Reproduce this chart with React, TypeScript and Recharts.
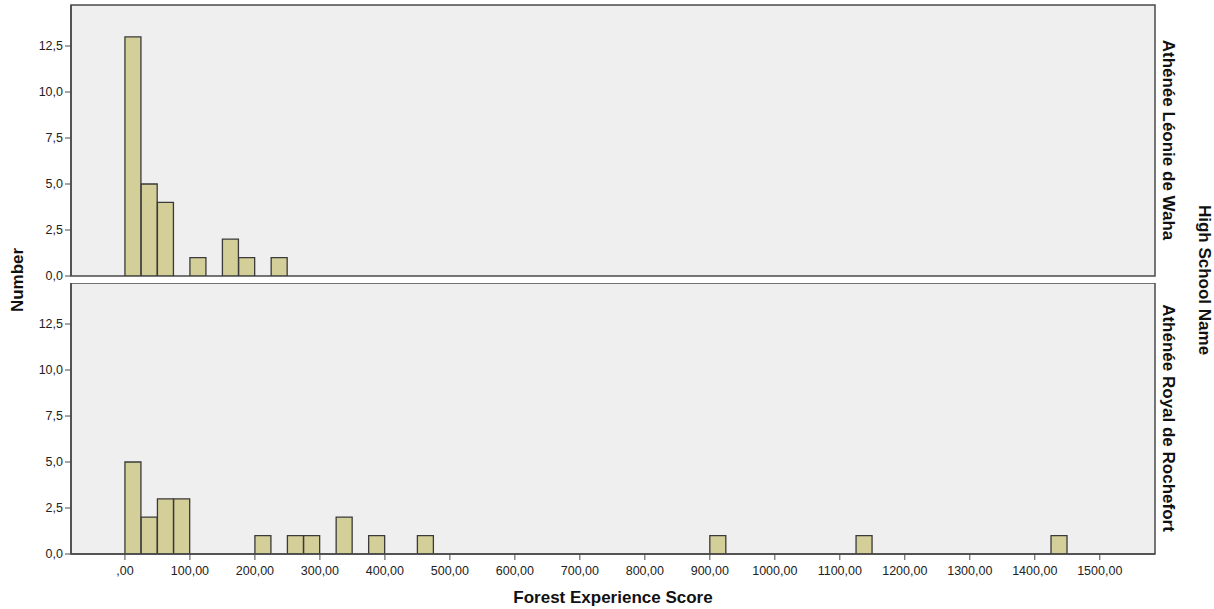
import { BarChart, Bar, XAxis, YAxis, CartesianGrid, ReferenceArea } from 'recharts';

// Histogram bins of width 25, keyed by bin start
const BIN_WIDTH = 25;

const wahaBins = [0, 25, 50, 100, 150, 175, 225];
const wahaCounts = [13, 5, 4, 1, 2, 1, 1];

const rochefortBins = [0, 25, 50, 75, 200, 250, 275, 325, 375, 450, 900, 1125, 1425];
const rochefortCounts = [5, 2, 3, 3, 1, 1, 1, 2, 1, 1, 1, 1, 1];

const xTicks = [0, 100, 200, 300, 400, 500, 600, 700, 800, 900, 1000, 1100, 1200, 1300, 1400, 1500];
const yTicks = [0, 2.5, 5, 7.5, 10, 12.5];

const X_DOMAIN: [number, number] = [-83, 1585];
const Y_DOMAIN: [number, number] = [0, 14.73];

const FONT = '"Liberation Sans", Arial, sans-serif';
const FRAME = '#4a4a4a';
const BAR_FILL = '#d4cf98';
const BAR_STROKE = '#3a3a3a';
const TICK_STYLE = { fontSize: 12.5, fill: '#222', fontFamily: FONT };

const toRows = (bins: number[], counts: number[]) =>
  bins.map((b, i) => ({ mid: b + BIN_WIDTH / 2, count: counts[i] }));

const fmtY = (v: number) => v.toFixed(1).replace('.', ',');
const fmtX = (v: number) => (v === 0 ? ',00' : `${v},00`);

function Panel({ rows, showX, height, top, bottom }: {
  rows: { mid: number; count: number }[];
  showX: boolean;
  height: number;
  top: number;
  bottom: number;
}) {
  return (
    <BarChart
      width={1214}
      height={height}
      data={rows}
      margin={{ top, right: 59, left: 31, bottom }}
      barCategoryGap={0}
      barGap={0}
    >
      <CartesianGrid horizontal={false} vertical={false} fill="#efefef" />
      <XAxis
        dataKey="mid"
        type="number"
        domain={X_DOMAIN}
        ticks={xTicks}
        tickFormatter={fmtX}
        allowDataOverflow
        height={showX ? 28 : 0}
        tick={showX ? TICK_STYLE : false}
        tickLine={showX ? { stroke: FRAME } : false}
        tickSize={6}
        tickMargin={6}
        axisLine={{ stroke: FRAME, strokeWidth: 1.5 }}
        interval={0}
      />
      <YAxis
        type="number"
        domain={Y_DOMAIN}
        ticks={yTicks}
        tickFormatter={fmtY}
        allowDataOverflow
        width={40}
        tick={TICK_STYLE}
        tickLine={{ stroke: FRAME }}
        tickSize={6}
        tickMargin={2}
        axisLine={{ stroke: FRAME, strokeWidth: 1.5 }}
        interval={0}
      />
      <Bar
        dataKey="count"
        fill={BAR_FILL}
        stroke={BAR_STROKE}
        strokeWidth={1.3}
        isAnimationActive={false}
      />
      {/* panel frame */}
      <ReferenceArea
        x1={X_DOMAIN[0]}
        x2={X_DOMAIN[1]}
        y1={Y_DOMAIN[0]}
        y2={Y_DOMAIN[1]}
        fill="none"
        stroke={FRAME}
        strokeWidth={1.5}
        ifOverflow="visible"
      />
    </BarChart>
  );
}

const sideText: React.CSSProperties = {
  position: 'absolute',
  fontFamily: FONT,
  fontWeight: 'bold',
  fontSize: 17,
  color: '#111',
  whiteSpace: 'nowrap',
  transformOrigin: 'center center',
};

export default function App() {
  return (
    <div style={{ position: 'absolute', left: 0, top: 0, width: 1214, height: 609, background: '#fff' }}>
      <div style={{ position: 'absolute', left: 0, top: 0 }}>
        <Panel rows={toRows(wahaBins, wahaCounts)} showX={false} height={284} top={5} bottom={8} />
      </div>
      <div style={{ position: 'absolute', left: 0, top: 283 }}>
        <Panel rows={toRows(rochefortBins, rochefortCounts)} showX height={302} top={0} bottom={3} />
      </div>

      <div style={{ ...sideText, left: 0, top: 588, width: 1226, textAlign: 'center' }}>
        Forest Experience Score
      </div>
      <div style={{ ...sideText, left: 18, top: 280, transform: 'translate(-50%, -50%) rotate(-90deg)' }}>
        Number
      </div>
      <div style={{ ...sideText, left: 1204, top: 280, transform: 'translate(-50%, -50%) rotate(90deg)' }}>
        High School Name
      </div>
      <div style={{ ...sideText, left: 1168, top: 140, transform: 'translate(-50%, -50%) rotate(90deg)' }}>
        Athénée Léonie de Waha
      </div>
      <div style={{ ...sideText, left: 1168, top: 418, transform: 'translate(-50%, -50%) rotate(90deg)' }}>
        Athénée Royal de Rochefort
      </div>
    </div>
  );
}
